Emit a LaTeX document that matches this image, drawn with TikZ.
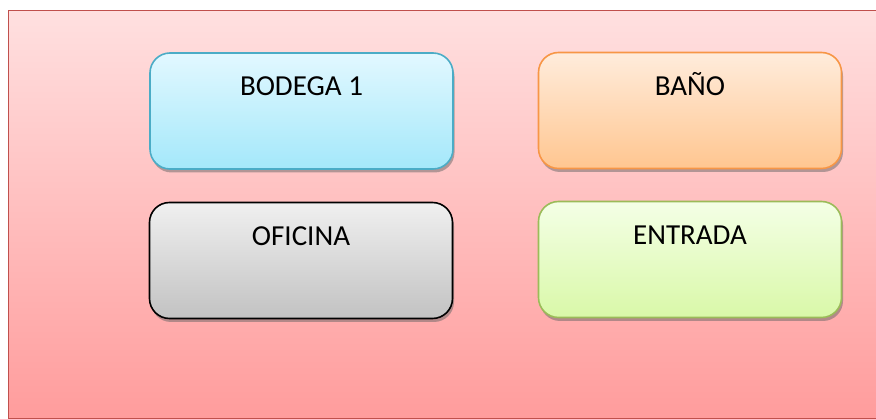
\documentclass[tikz,border=0pt]{standalone}
\usepackage{fontspec}
\setmainfont{Carlito}
\usetikzlibrary{shadows}

\definecolor{rojoBorde}{HTML}{C0504D}
\definecolor{rojoArriba}{HTML}{FFE0E0}
\definecolor{rojoAbajo}{HTML}{FF9C9C}
\definecolor{azulBorde}{HTML}{4BACC6}
\definecolor{azulArriba}{HTML}{E2F8FF}
\definecolor{azulAbajo}{HTML}{A4E8FA}
\definecolor{naranjaBorde}{HTML}{F79646}
\definecolor{naranjaArriba}{HTML}{FFECDC}
\definecolor{naranjaAbajo}{HTML}{FFC690}
\definecolor{grisArriba}{HTML}{F0F0F0}
\definecolor{grisAbajo}{HTML}{C2C2C2}
\definecolor{verdeBorde}{HTML}{9BBB59}
\definecolor{verdeArriba}{HTML}{F4FFE6}
\definecolor{verdeAbajo}{HTML}{D9F8A8}

\begin{document}
\begin{tikzpicture}[x=1pt, y=-1pt,
    sala/.style={draw, line width=1.6pt, rounded corners=20pt,
        minimum width=303pt, inner ysep=0pt,
        text height=43pt, text depth=73pt,
        font=\fontsize{29}{35}\selectfont,
        drop shadow={shadow xshift=1.5pt, shadow yshift=-3.5pt,
            opacity=.5, fill=black!60}}]
    \useasboundingbox (0,0) rectangle (876,419);
    \clip (0,0) rectangle (876,419);
    % Fondo del plano
    \draw[rojoBorde, line width=1.8pt, top color=rojoArriba, bottom color=rojoAbajo]
        (8.5,10.5) rectangle (884,418.5);
    % Salas
    \node[sala, draw=azulBorde, top color=azulArriba, bottom color=azulAbajo]
        (bodega) at (301.5,111) {BODEGA 1};
    \node[sala, draw=naranjaBorde, top color=naranjaArriba, bottom color=naranjaAbajo]
        (bano) at (690,110.5) {BAÑO};
    \node[sala, draw=black, top color=grisArriba, bottom color=grisAbajo]
        (oficina) at (301,260.5) {OFICINA};
    \node[sala, draw=verdeBorde, top color=verdeArriba, bottom color=verdeAbajo]
        (entrada) at (690,259.5) {ENTRADA};
\end{tikzpicture}
\end{document}
